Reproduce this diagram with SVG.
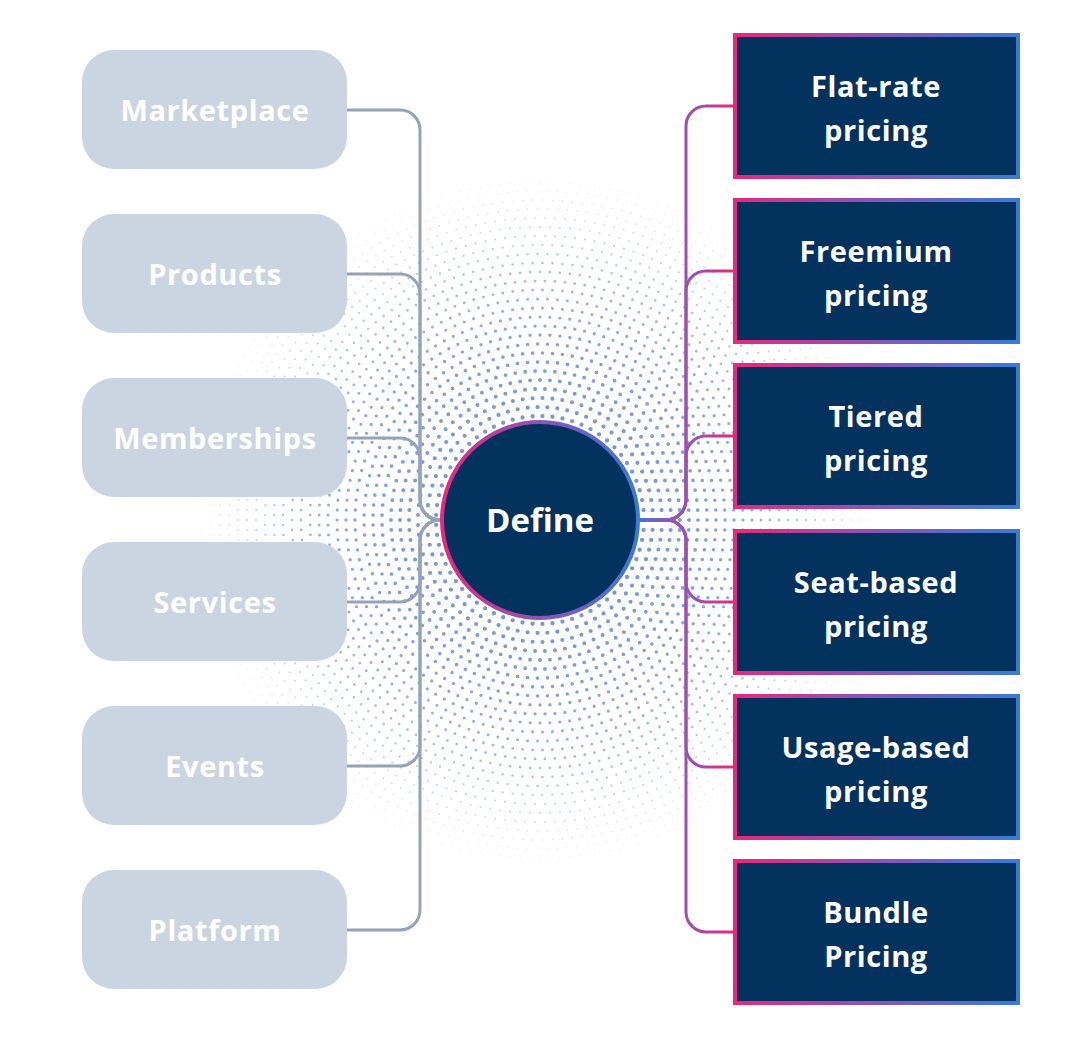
<svg xmlns="http://www.w3.org/2000/svg" width="1080" height="1040" viewBox="0 0 1080 1040">
<defs>
<style>
.ring{fill:none;stroke:#6a8fd0;stroke-linecap:round;stroke-dasharray:0 1}
.lbox{fill:#cbd5e1}
.ltxt{font-family:"Open Sans","Noto Sans",sans-serif;font-weight:700;font-size:29px;letter-spacing:0.6px;fill:#ffffff;text-anchor:middle}
.rbox{fill:#03325f;stroke:url(#boxGrad);stroke-width:4}
.rtxt{font-family:"Open Sans","Noto Sans",sans-serif;font-weight:700;font-size:29px;letter-spacing:0.6px;fill:#ffffff;text-anchor:middle}
.lc{fill:none;stroke:#95a3b8;stroke-width:3}
.rc{fill:none;stroke:url(#connGrad);stroke-width:3}
</style>
<linearGradient id="boxGrad" x1="0" y1="0" x2="1" y2="0">
<stop offset="0" stop-color="#e8287c"/>
<stop offset="0.5" stop-color="#8a55b8"/>
<stop offset="1" stop-color="#3a7ad8"/>
</linearGradient>
<linearGradient id="circGrad" x1="0" y1="0" x2="1" y2="0">
<stop offset="0" stop-color="#e8287c"/>
<stop offset="0.5" stop-color="#8a55b8"/>
<stop offset="1" stop-color="#3a7ad8"/>
</linearGradient>
<linearGradient id="connGrad" gradientUnits="userSpaceOnUse" x1="640" y1="0" x2="733" y2="0">
<stop offset="0" stop-color="#4f6fd6"/>
<stop offset="0.4" stop-color="#9b51b3"/>
<stop offset="0.6" stop-color="#a04dae"/>
<stop offset="1" stop-color="#e8297a"/>
</linearGradient>
</defs>
<rect width="1080" height="1040" fill="#ffffff"/>
<g id="dots">
<circle class="ring" cx="540" cy="520" r="104" pathLength="65" stroke-width="4.3" opacity="0.92"/>
<circle class="ring" cx="540" cy="520" r="113" pathLength="71" stroke-width="4.2" opacity="0.9"/>
<circle class="ring" cx="540" cy="520" r="122" pathLength="77" stroke-width="4.1" opacity="0.89"/>
<circle class="ring" cx="540" cy="520" r="131" pathLength="82" stroke-width="4.0" opacity="0.88"/>
<circle class="ring" cx="540" cy="520" r="140" pathLength="88" stroke-width="3.9" opacity="0.87"/>
<circle class="ring" cx="540" cy="520" r="149" pathLength="94" stroke-width="3.8" opacity="0.86"/>
<circle class="ring" cx="540" cy="520" r="158" pathLength="99" stroke-width="3.7" opacity="0.85"/>
<circle class="ring" cx="540" cy="520" r="167" pathLength="105" stroke-width="3.6" opacity="0.83"/>
<circle class="ring" cx="540" cy="520" r="176" pathLength="111" stroke-width="3.5" opacity="0.81"/>
<circle class="ring" cx="540" cy="520" r="185" pathLength="116" stroke-width="3.4" opacity="0.79"/>
<circle class="ring" cx="540" cy="520" r="194" pathLength="122" stroke-width="3.3" opacity="0.77"/>
<circle class="ring" cx="540" cy="520" r="203" pathLength="128" stroke-width="3.2" opacity="0.74"/>
<circle class="ring" cx="540" cy="520" r="212" pathLength="133" stroke-width="3.1" opacity="0.71"/>
<circle class="ring" cx="540" cy="520" r="221" pathLength="139" stroke-width="3.0" opacity="0.68"/>
<circle class="ring" cx="540" cy="520" r="230" pathLength="145" stroke-width="2.9" opacity="0.64"/>
<circle class="ring" cx="540" cy="520" r="239" pathLength="150" stroke-width="2.8" opacity="0.6"/>
<circle class="ring" cx="540" cy="520" r="248" pathLength="156" stroke-width="2.7" opacity="0.56"/>
<circle class="ring" cx="540" cy="520" r="257" pathLength="161" stroke-width="2.55" opacity="0.52"/>
<circle class="ring" cx="540" cy="520" r="266" pathLength="167" stroke-width="2.4" opacity="0.48"/>
<circle class="ring" cx="540" cy="520" r="275" pathLength="173" stroke-width="2.25" opacity="0.44"/>
<circle class="ring" cx="540" cy="520" r="284" pathLength="178" stroke-width="2.1" opacity="0.4"/>
<circle class="ring" cx="540" cy="520" r="293" pathLength="184" stroke-width="1.95" opacity="0.36"/>
<circle class="ring" cx="540" cy="520" r="302" pathLength="190" stroke-width="1.8" opacity="0.32"/>
<circle class="ring" cx="540" cy="520" r="311" pathLength="195" stroke-width="1.65" opacity="0.28"/>
<circle class="ring" cx="540" cy="520" r="320" pathLength="201" stroke-width="1.5" opacity="0.24"/>
<circle class="ring" cx="540" cy="520" r="329" pathLength="207" stroke-width="1.35" opacity="0.2"/>
<circle class="ring" cx="540" cy="520" r="338" pathLength="212" stroke-width="1.2" opacity="0.16"/>
</g>
<g id="connectors">
<path class="lc" d="M347,110 H400 A20,20 0 0 1 420,130 V500 A20,20 0 0 0 440,520"/>
<path class="lc" d="M347,274 H400 A20,20 0 0 1 420,294 V500 A20,20 0 0 0 440,520"/>
<path class="lc" d="M347,438 H400 A20,20 0 0 1 420,458 V500 A20,20 0 0 0 440,520"/>
<path class="lc" d="M347,602 H400 A20,20 0 0 0 420,582 V540 A20,20 0 0 1 440,520"/>
<path class="lc" d="M347,766 H400 A20,20 0 0 0 420,746 V540 A20,20 0 0 1 440,520"/>
<path class="lc" d="M347,930 H400 A20,20 0 0 0 420,910 V540 A20,20 0 0 1 440,520"/>
<path class="rc" d="M638,520 H666 A20,20 0 0 0 686,500 V126 A20,20 0 0 1 706,106 H733"/>
<path class="rc" d="M638,520 H666 A20,20 0 0 0 686,500 V291 A20,20 0 0 1 706,271 H733"/>
<path class="rc" d="M638,520 H666 A20,20 0 0 0 686,500 V456 A20,20 0 0 1 706,436 H733"/>
<path class="rc" d="M638,520 H666 A20,20 0 0 1 686,540 V582 A20,20 0 0 0 706,602 H733"/>
<path class="rc" d="M638,520 H666 A20,20 0 0 1 686,540 V747 A20,20 0 0 0 706,767 H733"/>
<path class="rc" d="M638,520 H666 A20,20 0 0 1 686,540 V912 A20,20 0 0 0 706,932 H733"/>
</g>
<g id="marketplace"><rect class="lbox" x="82" y="50" width="265" height="119" rx="32"/><text class="ltxt" x="215" y="121">Marketplace</text></g>
<g id="products"><rect class="lbox" x="82" y="214" width="265" height="119" rx="32"/><text class="ltxt" x="215" y="285">Products</text></g>
<g id="memberships"><rect class="lbox" x="82" y="378" width="265" height="119" rx="32"/><text class="ltxt" x="215" y="449">Memberships</text></g>
<g id="services"><rect class="lbox" x="82" y="542" width="265" height="119" rx="32"/><text class="ltxt" x="215" y="613">Services</text></g>
<g id="events"><rect class="lbox" x="82" y="706" width="265" height="119" rx="32"/><text class="ltxt" x="215" y="777">Events</text></g>
<g id="platform"><rect class="lbox" x="82" y="870" width="265" height="119" rx="32"/><text class="ltxt" x="215" y="941">Platform</text></g>
<g id="define"><circle cx="540" cy="520" r="98" fill="#03325f" stroke="url(#circGrad)" stroke-width="4"/><text x="540" y="532" font-family="'Open Sans','Noto Sans',sans-serif" font-weight="700" font-size="33" fill="#ffffff" text-anchor="middle">Define</text></g>
<g id="flat-rate"><rect class="rbox" x="735" y="35" width="283" height="142"/><text class="rtxt" x="876" y="97">Flat-rate</text><text class="rtxt" x="876" y="141">pricing</text></g>
<g id="freemium"><rect class="rbox" x="735" y="200" width="283" height="142"/><text class="rtxt" x="876" y="262">Freemium</text><text class="rtxt" x="876" y="306">pricing</text></g>
<g id="tiered"><rect class="rbox" x="735" y="365" width="283" height="142"/><text class="rtxt" x="876" y="427">Tiered</text><text class="rtxt" x="876" y="471">pricing</text></g>
<g id="seat-based"><rect class="rbox" x="735" y="531" width="283" height="142"/><text class="rtxt" x="876" y="593">Seat-based</text><text class="rtxt" x="876" y="637">pricing</text></g>
<g id="usage-based"><rect class="rbox" x="735" y="696" width="283" height="142"/><text class="rtxt" x="876" y="758">Usage-based</text><text class="rtxt" x="876" y="802">pricing</text></g>
<g id="bundle"><rect class="rbox" x="735" y="861" width="283" height="142"/><text class="rtxt" x="876" y="923">Bundle</text><text class="rtxt" x="876" y="967">Pricing</text></g>
</svg>
